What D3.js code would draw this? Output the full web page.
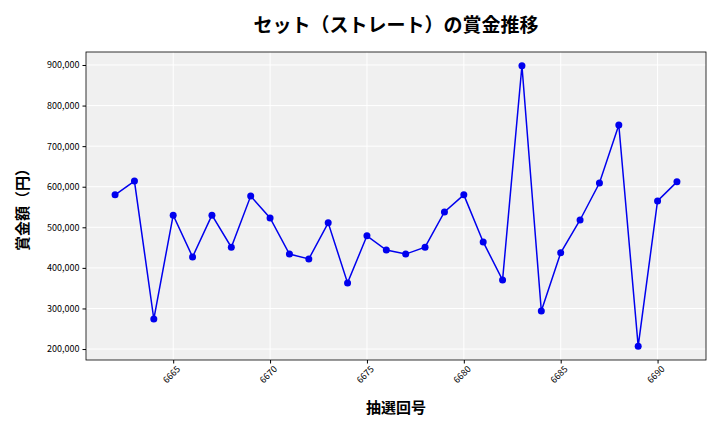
<!DOCTYPE html><html><head><meta charset="utf-8"><script src="https://cdn.jsdelivr.net/npm/d3@7"></script>
<style>body{margin:0;background:#fff}text{font-family:"Noto Sans CJK JP","DejaVu Sans",sans-serif}</style></head><body><svg id="c" width="720" height="432"></svg><script>
const draws=[6662,6663,6664,6665,6666,6667,6668,6669,6670,6671,6672,6673,6674,6675,6676,6677,6678,6679,6680,6681,6682,6683,6684,6685,6686,6687,6688,6689,6690,6691];
const prizes=[580000,614000,274000,530000,427000,530000,451000,577000,523000,434000,422000,511000,363000,479000,444000,434000,451000,538000,580000,464000,370000,898000,294000,437000,518000,609000,752000,207000,565000,612000];
const xTicks=[6665,6670,6675,6680,6685,6690];
const yTicks=[200000,300000,400000,500000,600000,700000,800000,900000];
const svg=d3.select("#c");
const L=86,R=706,T=52,B=360;
const x=d3.scaleLinear().domain([6660.5,6692.5]).range([L,R]);
const y=d3.scaleLinear().domain([173000,932000]).range([B,T]);
svg.append("rect").attr("x",L).attr("y",T).attr("width",R-L).attr("height",B-T).attr("fill","#f0f0f0");
const g=svg.append("g");
xTicks.forEach(t=>g.append("line").attr("x1",x(t)).attr("x2",x(t)).attr("y1",T).attr("y2",B).attr("stroke","#fff"));
yTicks.forEach(t=>g.append("line").attr("y1",y(t)).attr("y2",y(t)).attr("x1",L).attr("x2",R).attr("stroke","#fff"));
svg.append("rect").attr("x",L).attr("y",T).attr("width",R-L).attr("height",B-T).attr("fill","none").attr("stroke","#000").attr("stroke-width",0.8);
const xa=svg.append("g").attr("transform",`translate(0,${B})`).call(d3.axisBottom(x).tickValues(xTicks).tickFormat(d3.format("d")).tickSize(3.5));
xa.select(".domain").remove();
xa.selectAll("text").attr("font-size",9).attr("transform","rotate(-45)").attr("text-anchor","end").attr("dx","-0.2em").attr("dy","0.6em");
const ya=svg.append("g").attr("transform",`translate(${L},0)`).call(d3.axisLeft(y).tickValues(yTicks).tickFormat(d3.format(",")).tickSize(3.5));
ya.select(".domain").remove();
ya.selectAll("text").attr("font-size",9);
svg.append("path").datum(prizes).attr("fill","none").attr("stroke","#0000ee").attr("stroke-width",1.5)
 .attr("d",d3.line().x((d,i)=>x(draws[i])).y(d=>y(d)));
svg.selectAll("circle").data(prizes).join("circle").attr("cx",(d,i)=>x(draws[i])).attr("cy",d=>y(d)).attr("r",3.5).attr("fill","#0000ee");
svg.append("text").attr("x",396).attr("y",32).attr("text-anchor","middle").attr("font-size",19).attr("font-weight","bold").text("セット（ストレート）の賞金推移");
svg.append("text").attr("x",396).attr("y",413).attr("text-anchor","middle").attr("font-size",15).attr("font-weight","bold").text("抽選回号");
svg.append("text").attr("transform","translate(28,206) rotate(-90)").attr("text-anchor","middle").attr("font-size",15).attr("font-weight","bold").text("賞金額（円）");
</script></body></html>
